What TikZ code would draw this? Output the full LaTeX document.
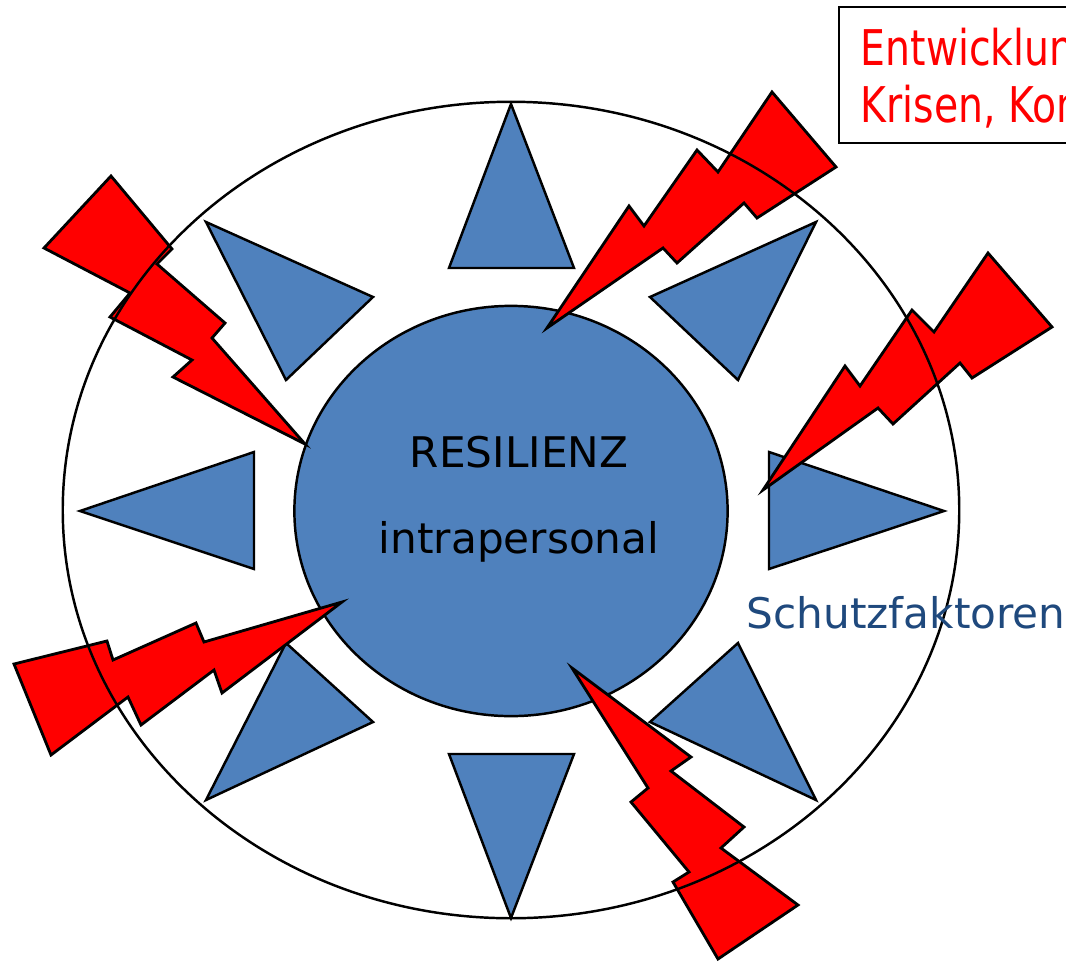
\documentclass[tikz,border=0pt]{standalone}
\usepackage{fontspec}
\setmainfont{DejaVu Sans}
\newfontfamily\stressfont[FakeStretch=0.8]{DejaVu Sans}
\definecolor{factorblue}{HTML}{4F81BD}
\definecolor{labelblue}{HTML}{1F497D}
\begin{document}
\begin{tikzpicture}[x=0.01cm, y=-0.01cm,
            factor/.style={draw=black, fill=factorblue, line width=0.7pt},
            bolt/.style={draw=black, fill=red, line width=0.8pt},
            core/.style={font=\fontsize{12}{14}\selectfont, inner sep=0pt, anchor=base},
            stress/.style={font=\stressfont\fontsize{14}{16}\selectfont, text=red, inner sep=0pt, anchor=base west}
        ]
        \useasboundingbox (0,0) rectangle (1066,963);
        \clip (0,0) rectangle (1066,963);

        % --- inner core ---
        \fill[factorblue] (511,511) ellipse [x radius=2.165cm, y radius=2.05cm];
        \draw[line width=0.7pt] (511,511) ellipse [x radius=2.165cm, y radius=2.05cm];

        % --- protective factors ---
        \draw[factor] (511,104) -- (574,268) -- (449,268) -- cycle;
        \draw[factor] (511,918) -- (574,754) -- (449,754) -- cycle;
        \draw[factor] (80,511) -- (254,452) -- (254,569) -- cycle;
        \draw[factor] (944,511) -- (769,452) -- (769,569) -- cycle;
        \draw[factor] (206,222) -- (373,297) -- (286,380) -- cycle;
        \draw[factor] (816,222) -- (650,297) -- (738,380) -- cycle;
        \draw[factor] (206,800) -- (286,643) -- (373,722) -- cycle;
        \draw[factor] (816,800) -- (738,643) -- (650,722) -- cycle;

        % --- bolts ---
        \draw[bolt] (547,328) -- (629,206) -- (644,226) -- (697,150) -- (718,172) -- (772,92)
            -- (836,167) -- (757,218) -- (744,203) -- (677,263) -- (663,248) -- cycle;
        \draw[bolt] (111,176) -- (172,249) -- (157,264) -- (225,323) -- (212,338) -- (305,444)
            -- (173,377) -- (192,360) -- (110,317) -- (130,293) -- (44,248) -- cycle;
        \draw[bolt] (14,664) -- (107,641) -- (113,660) -- (196,623) -- (204,642) -- (342,602)
            -- (222,693) -- (214,670) -- (141,725) -- (128,697) -- (51,755) -- cycle;
        \draw[bolt] (572,668) -- (691,757) -- (671,771) -- (744,827) -- (721,848) -- (798,905)
            -- (718,959) -- (673,882) -- (689,872) -- (631,802) -- (648,788) -- cycle;
        \draw[bolt] (763,490) -- (845,366) -- (860,386) -- (912,310) -- (934,332) -- (988,253)
            -- (1052,327) -- (972,378) -- (960,363) -- (893,424) -- (878,408) -- cycle;

        % --- outer ring, on top of the bolts ---
        \draw[line width=0.7pt] (511,510) ellipse [x radius=4.48cm, y radius=4.08cm];

        % --- labels ---
        \node[core] (res) at (519,467) {RESILIENZ};
        \node[core] (intra) at (519,553) {intrapersonal};
        \node[core, anchor=base west, text=labelblue] (schutz) at (746,628) {Schutzfaktoren};

        \draw[line width=0.7pt, fill=white] (839,7) rectangle (1120,143);
        \node[stress] (entw) at (860,65) {Entwicklungsaufgaben,};
        \node[stress] (krisen) at (860,122) {Krisen, Konflikte};
        \end{tikzpicture}
\end{document}
